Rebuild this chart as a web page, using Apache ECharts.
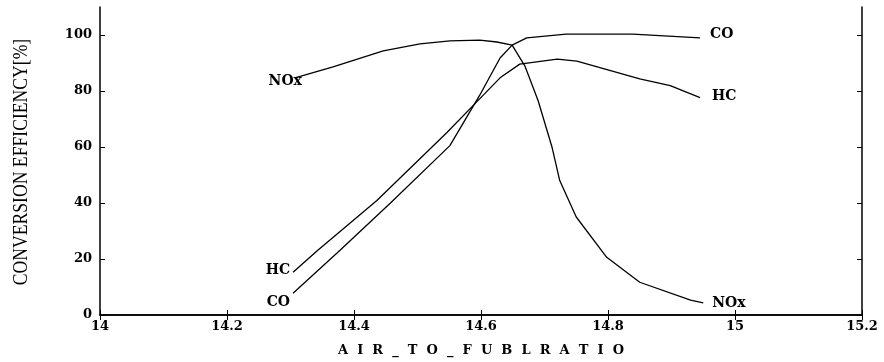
<!DOCTYPE html>
<html><head><meta charset="utf-8">
<script src="https://cdn.jsdelivr.net/npm/echarts@6/dist/echarts.min.js"></script>
<style>html,body{margin:0;padding:0;background:#fff}#c{width:884px;height:362px}</style>
</head><body><div id="c"></div>
<script>
const xTicks = [14, 14.2, 14.4, 14.6, 14.8, 15, 15.2];
const yTicks = [0, 20, 40, 60, 80, 100];

const coX = [14.304, 14.378, 14.457, 14.551, 14.598, 14.63, 14.649, 14.672, 14.734, 14.839, 14.945];
const coY = [7.8, 23.1, 39.9, 60.5, 78.5, 91.8, 96.4, 99.0, 100.3, 100.3, 99.0];

const hcX = [14.304, 14.343, 14.436, 14.546, 14.594, 14.63, 14.661, 14.72, 14.751, 14.85, 14.898, 14.945];
const hcY = [15.3, 23.1, 40.9, 65.1, 76.3, 84.7, 89.6, 91.4, 90.7, 84.3, 81.9, 77.6];

const noxX = [14.307, 14.367, 14.446, 14.504, 14.551, 14.598, 14.625, 14.649, 14.669, 14.69, 14.712, 14.724, 14.75, 14.798, 14.85, 14.93, 14.95];
const noxY = [84.7, 88.6, 94.3, 96.8, 97.9, 98.2, 97.5, 96.4, 89.0, 76.5, 59.8, 48.0, 35.0, 20.6, 11.7, 5.3, 4.3];

const xTitle = 'AIR_TO_FUBLRATIO';
const yTitle = 'CONVERSION EFFICIENCY[%]';

const labelFont = {fontFamily: 'DejaVu Serif', fontWeight: 'bold', fontSize: 14, color: '#000'};

function build(xs, ys, name, startLab, endLab) {
  const data = xs.map((x, i) => ({value: [x, ys[i]]}));
  data[0].label = Object.assign({show: true, formatter: name}, labelFont, startLab);
  data[data.length - 1].label = Object.assign({show: true, formatter: name}, labelFont, endLab);
  return data;
}

const chart = echarts.init(document.getElementById('c'));
const tickStyle = {show: true, inside: true, length: 5, lineStyle: {color: '#000', width: 1}};
const lineAx = {show: true, lineStyle: {color: '#000', width: 1.5}};
const spacedTitle = xTitle.split('').join('\u2002\u2009');

function mkSeries(name, xs, ys, s, e) {
  return {
    type: 'line', name: name, data: build(xs, ys, name, s, e),
    showSymbol: true, symbol: 'circle', symbolSize: 0,
    lineStyle: {color: '#000', width: 1.3}, itemStyle: {color: '#000'},
    label: {show: false}, emphasis: {disabled: true}, animation: false
  };
}

const tickFont = {fontFamily: 'DejaVu Serif', fontWeight: 'bold', fontSize: 13, color: '#000'};

chart.setOption({
  animation: false,
  grid: {left: 100, right: 22, top: 7, bottom: 47},
  xAxis: [{
    type: 'value', min: 14, max: 15.2, interval: 0.2,
    axisLine: lineAx, splitLine: {show: false},
    axisTick: Object.assign({customValues: xTicks}, tickStyle),
    axisLabel: Object.assign({customValues: xTicks, margin: 5}, tickFont),
    name: spacedTitle, nameLocation: 'middle', nameGap: 29,
    nameTextStyle: {fontFamily: 'DejaVu Serif', fontWeight: 'bold', fontSize: 13, color: '#000'}
  }, {
    type: 'value', position: 'top', min: 14, max: 15.2, interval: 0.2,
    axisLine: lineAx, splitLine: {show: false},
    axisTick: Object.assign({customValues: xTicks}, tickStyle),
    axisLabel: {show: false}
  }],
  yAxis: [{
    type: 'value', min: 0, max: 110, interval: 20,
    axisLine: lineAx, splitLine: {show: false},
    axisTick: Object.assign({customValues: yTicks}, tickStyle),
    axisLabel: Object.assign({customValues: yTicks, margin: 8}, tickFont)
  }, {
    type: 'value', position: 'right', min: 0, max: 110, interval: 20,
    axisLine: lineAx, splitLine: {show: false},
    axisTick: Object.assign({customValues: yTicks}, tickStyle),
    axisLabel: {show: false}
  }],
  graphic: [{
    type: 'text', x: 21, y: 162, rotation: Math.PI / 2, scaleX: 0.98, scaleY: 1.2,
    style: {text: yTitle, fontFamily: 'Liberation Serif', fontSize: 18, fill: '#000', align: 'center', verticalAlign: 'middle'}
  }],
  series: [
    mkSeries('CO', coX, coY, {position: 'left', distance: 3, offset: [0, 9]}, {position: 'right', distance: 10, offset: [0, -3]}),
    mkSeries('HC', hcX, hcY, {position: 'left', distance: 3, offset: [0, -2]}, {position: 'right', distance: 12, offset: [0, -1]}),
    mkSeries('NOx', noxX, noxY, {position: 'left', distance: 0, offset: [7, 4]}, {position: 'right', distance: 9, offset: [0, 0]})
  ]
});
</script></body></html>
